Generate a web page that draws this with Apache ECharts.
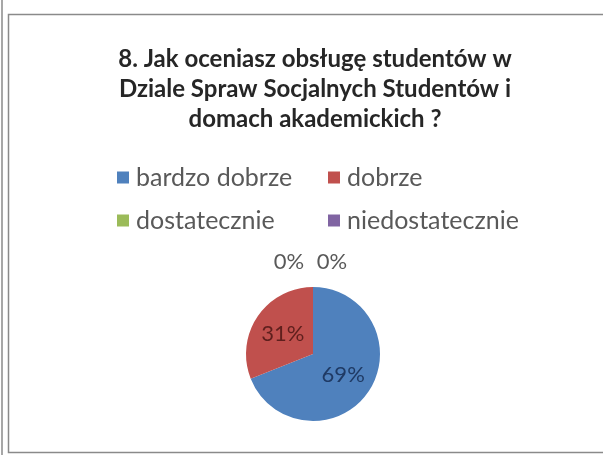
<!DOCTYPE html>
<html>
<head>
<meta charset="utf-8">
<script src="https://cdn.jsdelivr.net/npm/echarts@6/dist/echarts.min.js"></script>
<style>
  html, body { margin: 0; padding: 0; background: #fff; }
  #chart { width: 603px; height: 455px; }
</style>
</head>
<body>
<div id="chart"></div>
<script>
// Survey question 8: rating of service in the student social affairs office
const titleText = '8. Jak oceniasz obsługę studentów w\nDziale Spraw Socjalnych Studentów i\ndomach akademickich ?';
const categories = ['bardzo dobrze', 'dobrze', 'dostatecznie', 'niedostatecznie'];
const shares = [69, 31, 0, 0];
const colors = ['#4F81BD', '#C0504D', '#9BBB59', '#8064A2'];
const labelColors = ['#1F3A64', '#5E1F1D', '#595959', '#595959'];
// zero-value slices sit at 12 o'clock; their labels are lifted above the pie
const labelOffsets = [[0, 0], [0, 0], [-24, -56], [19, -56]];

const FONT = 'Lato, "Open Sans", sans-serif';

const chart = echarts.init(document.getElementById('chart'), null, { renderer: 'canvas' });

const legendBase = {
  orient: 'vertical',
  top: 160,
  itemWidth: 12,
  itemHeight: 12,
  itemGap: 18,
  icon: 'rect',
  selectedMode: false,
  textStyle: { fontFamily: FONT, fontSize: 25, color: '#595959', padding: [0, 0, 0, 2] }
};

chart.setOption({
  backgroundColor: '#fff',
  animation: false,
  color: colors,
  title: {
    text: titleText,
    left: 310,
    textAlign: 'center',
    top: 39,
    textStyle: {
      fontFamily: FONT,
      fontSize: 24,
      fontWeight: 'bold',
      lineHeight: 30,
      color: '#262626'
    }
  },
  legend: [
    Object.assign({}, legendBase, { left: 112, data: [categories[0], categories[2]] }),
    Object.assign({}, legendBase, { left: 323, data: [categories[1], categories[3]] })
  ],
  graphic: [
    { type: 'line', shape: { x1: 2, y1: 0, x2: 2, y2: 455 }, style: { stroke: '#8a8a8a', lineWidth: 1.5 } },
    { type: 'rect', shape: { x: 8.5, y: 14.5, width: 620, height: 438 }, style: { fill: null, stroke: '#8a8a8a', lineWidth: 1.5 } }
  ],
  series: [{
    type: 'pie',
    center: [313, 354],
    radius: [0, 67],
    startAngle: 90,
    clockwise: true,
    avoidLabelOverlap: false,
    minShowLabelAngle: 0,
    stillShowZeroSum: true,
    label: {
      show: true,
      position: 'inside',
      fontFamily: FONT,
      fontSize: 22,
      formatter: p => p.value + '%'
    },
    labelLine: { show: false },
    emphasis: { disabled: true },
    data: categories.map((name, i) => ({
      name,
      value: shares[i],
      itemStyle: { color: colors[i] },
      label: { color: labelColors[i], offset: labelOffsets[i] }
    }))
  }]
});
</script>
</body>
</html>
